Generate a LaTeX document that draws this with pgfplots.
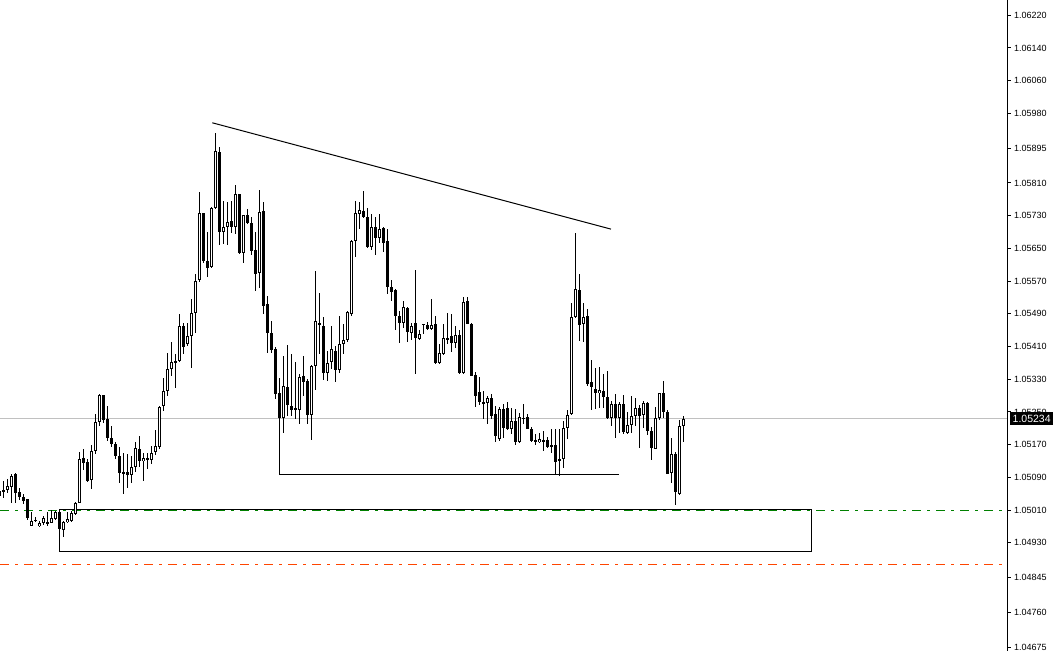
\documentclass[border=0pt]{standalone}
\usepackage{fontspec}
\setmainfont{Liberation Sans}
\usepackage{pgfplots}
\usepackage{pgfplotstable}
\pgfplotsset{compat=1.18}
\definecolor{mtgreen}{RGB}{0,128,0}
\definecolor{mtred}{RGB}{255,69,0}
\definecolor{mtgray}{RGB}{192,192,192}
\pgfplotstableread{
i o h l c
0 1.05046 1.05068 1.05041 1.05058
1 1.05060 1.05082 1.05041 1.05055
2 1.05060 1.05087 1.05051 1.05069
3 1.05069 1.05100 1.05029 1.05096
4 1.05099 1.05101 1.05029 1.05054
5 1.05055 1.05065 1.05036 1.05041
6 1.05042 1.05051 1.05026 1.05034
7 1.05036 1.05037 1.04987 1.04989
8 1.04972 1.05007 1.04971 1.04985
9 1.04984 1.04994 1.04980 1.04987
10 1.04972 1.04985 1.04970 1.04979
11 1.04978 1.04997 1.04975 1.04990
12 1.04978 1.05005 1.04972 1.04980
13 1.04980 1.05011 1.04978 1.04993
14 1.04989 1.05009 1.04986 1.05007
15 1.05007 1.05009 1.04962 1.04964
16 1.04963 1.04985 1.04944 1.04981
17 1.04981 1.05005 1.04978 1.04989
18 1.04985 1.05009 1.04982 1.05003
19 1.05003 1.05029 1.04997 1.05028
20 1.05029 1.05152 1.05027 1.05135
21 1.05138 1.05160 1.05108 1.05126
22 1.05129 1.05135 1.05080 1.05081
23 1.05084 1.05170 1.05062 1.05155
24 1.05154 1.05245 1.05148 1.05225
25 1.05225 1.05294 1.05216 1.05292
26 1.05292 1.05294 1.05225 1.05232
27 1.05233 1.05266 1.05180 1.05187
28 1.05188 1.05217 1.05166 1.05172
29 1.05173 1.05178 1.05135 1.05144
30 1.05144 1.05166 1.05078 1.05103
31 1.05104 1.05149 1.05050 1.05100
32 1.05104 1.05148 1.05065 1.05097
33 1.05097 1.05144 1.05078 1.05115
34 1.05115 1.05176 1.05103 1.05162
35 1.05162 1.05192 1.05115 1.05131
36 1.05130 1.05149 1.05082 1.05138
37 1.05137 1.05149 1.05111 1.05138
38 1.05135 1.05168 1.05123 1.05152
39 1.05152 1.05207 1.05146 1.05166
40 1.05166 1.05265 1.05162 1.05264
41 1.05264 1.05335 1.05254 1.05302
42 1.05302 1.05396 1.05290 1.05356
43 1.05356 1.05421 1.05339 1.05373
44 1.05372 1.05391 1.05309 1.05376
45 1.05376 1.05490 1.05372 1.05461
46 1.05461 1.05469 1.05394 1.05410
47 1.05417 1.05469 1.05412 1.05437
48 1.05437 1.05527 1.05358 1.05494
49 1.05494 1.05590 1.05445 1.05571
50 1.05573 1.05789 1.05567 1.05737
51 1.05737 1.05738 1.05614 1.05619
52 1.05620 1.05691 1.05580 1.05604
53 1.05604 1.05752 1.05603 1.05749
54 1.05749 1.05933 1.05747 1.05888
55 1.05886 1.05899 1.05659 1.05690
56 1.05692 1.05767 1.05661 1.05703
57 1.05702 1.05765 1.05659 1.05716
58 1.05718 1.05767 1.05688 1.05702
59 1.05702 1.05804 1.05686 1.05782
60 1.05782 1.05785 1.05637 1.05638
61 1.05641 1.05733 1.05614 1.05732
62 1.05732 1.05747 1.05710 1.05713
63 1.05713 1.05726 1.05633 1.05645
64 1.05646 1.05690 1.05547 1.05588
65 1.05589 1.05793 1.05555 1.05740
66 1.05743 1.05765 1.05490 1.05510
67 1.05513 1.05535 1.05396 1.05443
68 1.05445 1.05474 1.05396 1.05403
69 1.05406 1.05410 1.05282 1.05296
70 1.05296 1.05332 1.05200 1.05236
71 1.05237 1.05388 1.05200 1.05315
72 1.05312 1.05415 1.05241 1.05266
73 1.05266 1.05392 1.05241 1.05255
74 1.05259 1.05372 1.05233 1.05255
75 1.05255 1.05343 1.05221 1.05337
76 1.05337 1.05388 1.05288 1.05323
77 1.05325 1.05331 1.05221 1.05244
78 1.05243 1.05365 1.05182 1.05364
79 1.05364 1.05596 1.05304 1.05474
80 1.05469 1.05541 1.05392 1.05464
81 1.05461 1.05483 1.05327 1.05347
82 1.05347 1.05400 1.05327 1.05370
83 1.05372 1.05461 1.05356 1.05404
84 1.05400 1.05412 1.05323 1.05353
85 1.05353 1.05486 1.05347 1.05417
86 1.05417 1.05464 1.05392 1.05426
87 1.05426 1.05498 1.05422 1.05496
88 1.05490 1.05671 1.05486 1.05669
89 1.05669 1.05767 1.05630 1.05737
90 1.05735 1.05765 1.05698 1.05743
91 1.05743 1.05790 1.05725 1.05726
92 1.05728 1.05751 1.05653 1.05654
93 1.05654 1.05735 1.05645 1.05703
94 1.05702 1.05726 1.05635 1.05676
95 1.05677 1.05735 1.05663 1.05698
96 1.05702 1.05703 1.05641 1.05665
97 1.05669 1.05698 1.05539 1.05557
98 1.05557 1.05573 1.05521 1.05545
99 1.05549 1.05551 1.05452 1.05484
100 1.05486 1.05498 1.05421 1.05469
101 1.05469 1.05523 1.05457 1.05508
102 1.05505 1.05506 1.05421 1.05447
103 1.05445 1.05469 1.05426 1.05461
104 1.05469 1.05598 1.05343 1.05431
105 1.05429 1.05451 1.05426 1.05441
106 1.05464 1.05466 1.05443 1.05466
107 1.05464 1.05472 1.05453 1.05455
108 1.05453 1.05527 1.05452 1.05464
109 1.05464 1.05486 1.05368 1.05370
110 1.05370 1.05418 1.05368 1.05395
111 1.05391 1.05466 1.05390 1.05431
112 1.05431 1.05494 1.05418 1.05430
113 1.05435 1.05490 1.05396 1.05418
114 1.05418 1.05461 1.05407 1.05439
115 1.05439 1.05449 1.05342 1.05346
116 1.05346 1.05531 1.05345 1.05521
117 1.05523 1.05532 1.05464 1.05466
118 1.05466 1.05467 1.05337 1.05339
119 1.05342 1.05347 1.05262 1.05290
120 1.05298 1.05335 1.05268 1.05274
121 1.05276 1.05302 1.05233 1.05270
122 1.05272 1.05290 1.05221 1.05285
123 1.05285 1.05293 1.05233 1.05241
124 1.05244 1.05264 1.05176 1.05190
125 1.05184 1.05263 1.05180 1.05258
126 1.05259 1.05271 1.05188 1.05211
127 1.05259 1.05274 1.05206 1.05209
128 1.05209 1.05260 1.05197 1.05229
129 1.05229 1.05258 1.05170 1.05178
130 1.05176 1.05247 1.05175 1.05237
131 1.05237 1.05271 1.05222 1.05236
132 1.05237 1.05245 1.05209 1.05210
133 1.05211 1.05213 1.05176 1.05180
134 1.05182 1.05197 1.05170 1.05178
135 1.05178 1.05199 1.05174 1.05184
136 1.05182 1.05205 1.05156 1.05178
137 1.05182 1.05190 1.05164 1.05166
138 1.05168 1.05211 1.05152 1.05167
139 1.05170 1.05209 1.05099 1.05127
140 1.05131 1.05209 1.05095 1.05135
141 1.05135 1.05229 1.05115 1.05211
142 1.05211 1.05255 1.05184 1.05243
143 1.05245 1.05518 1.05244 1.05483
144 1.05482 1.05687 1.05480 1.05551
145 1.05549 1.05588 1.05423 1.05463
146 1.05466 1.05518 1.05421 1.05482
147 1.05486 1.05502 1.05315 1.05319
148 1.05325 1.05376 1.05254 1.05313
149 1.05307 1.05358 1.05258 1.05296
150 1.05296 1.05359 1.05258 1.05304
151 1.05302 1.05343 1.05260 1.05287
152 1.05288 1.05351 1.05233 1.05236
153 1.05236 1.05278 1.05217 1.05270
154 1.05270 1.05294 1.05187 1.05236
155 1.05236 1.05276 1.05200 1.05270
156 1.05270 1.05294 1.05197 1.05203
157 1.05198 1.05249 1.05195 1.05219
158 1.05219 1.05290 1.05200 1.05241
159 1.05239 1.05286 1.05217 1.05259
160 1.05262 1.05266 1.05162 1.05241
161 1.05243 1.05278 1.05213 1.05271
162 1.05271 1.05274 1.05195 1.05203
163 1.05205 1.05213 1.05134 1.05164
164 1.05161 1.05262 1.05160 1.05236
165 1.05236 1.05298 1.05231 1.05296
166 1.05296 1.05327 1.05237 1.05251
167 1.05251 1.05255 1.05099 1.05100
168 1.05100 1.05187 1.05078 1.05148
169 1.05148 1.05152 1.05024 1.05056
170 1.05050 1.05233 1.05048 1.05217
171 1.05217 1.05241 1.05176 1.05234
}\candles
\begin{document}
\begin{tikzpicture}
\path[use as bounding box] (0,0) rectangle (1056bp,651bp);
\begin{axis}[
  at={(0,0)}, anchor=south west,
  scale only axis, width=1007.5bp, height=651bp,
  xmin=0.125, xmax=252,
  ymin=1.04665537, ymax=1.06257233,
  axis x line=none,
  axis y line=right,
  axis line style={-, line width=1bp, black},
  xtick=\empty,
  ytick={1.06220,1.06140,1.06060,1.05980,1.05895,1.05810,1.05730,1.05650,1.05570,1.05490,1.05410,1.05330,1.05250,1.05170,1.05090,1.05010,1.04930,1.04845,1.04760,1.04675},
  yticklabels={1.06220,1.06140,1.06060,1.05980,1.05895,1.05810,1.05730,1.05650,1.05570,1.05490,1.05410,1.05330,1.05250,1.05170,1.05090,1.05010,1.04930,1.04845,1.04760,1.04675},
  tick align=outside,
  major tick length=3.5bp,
  tick style={line width=1bp, black},
  yticklabel style={anchor=west, inner sep=0pt, xshift=3bp, font=\fontsize{9bp}{10.8bp}\selectfont},
  clip=false,
]
% bid line
\addplot[mtgray, line width=1bp, mark=none] coordinates {(0.125,1.05234) (252,1.05234)};
% dash-dot levels
\addplot[mtgreen, line width=1bp, mark=none, dash pattern=on 9bp off 6bp on 3bp off 6bp] coordinates {(0.125,1.05009) (252,1.05009)};
\addplot[mtred, line width=1bp, mark=none, dash pattern=on 9bp off 6bp on 3bp off 6bp] coordinates {(0.125,1.04877) (252,1.04877)};
% rectangle
\addplot[black, line width=1bp, mark=none] coordinates {(15,1.05012) (203,1.05012) (203,1.04909) (15,1.04909) (15,1.05012)};
% L-shaped support
\addplot[black, line width=1bp, mark=none] coordinates {(70,1.05254) (70,1.05097) (154.8,1.05097)};
% trendline
\addplot[black, line width=1bp, mark=none] coordinates {(53.2,1.05957) (152.875,1.05697)};
% wicks
\addplot[draw=none, no markers, forget plot,
  error bars/.cd, y dir=both, y explicit, error mark=none,
  error bar style={draw=black, solid, line width=1bp}]
  table[x=i, y expr=(\thisrow{h}+\thisrow{l})/2, y error expr=(\thisrow{h}-\thisrow{l})/2] {\candles};
% bodies
\addplot[draw=none, no markers, forget plot,
  error bars/.cd, y dir=both, y explicit, error mark=none,
  error bar style={draw=black, solid, line width=3bp}]
  table[x=i, y expr=(\thisrow{o}+\thisrow{c})/2, y error expr={max(abs(\thisrow{o}-\thisrow{c})/2,0.0000123)}] {\candles};
% white interiors of bullish bodies
\addplot[draw=none, no markers, forget plot,
  error bars/.cd, y dir=both, y explicit, error mark=none,
  error bar style={draw=white, solid, line width=1bp}]
  table[x=i, y expr=(\thisrow{o}+\thisrow{c})/2, y error expr={max((\thisrow{c}-\thisrow{o})/2-0.0000245,0)}] {\candles};
% current price label
\node[fill=black, text=white, anchor=west, inner xsep=2.5bp, inner ysep=0pt, minimum height=13bp,
  font=\fontsize{10.5bp}{12bp}\selectfont, xshift=2.5bp] at (axis cs:252,1.05234) {1.05234};
\end{axis}
\end{tikzpicture}
\end{document}
